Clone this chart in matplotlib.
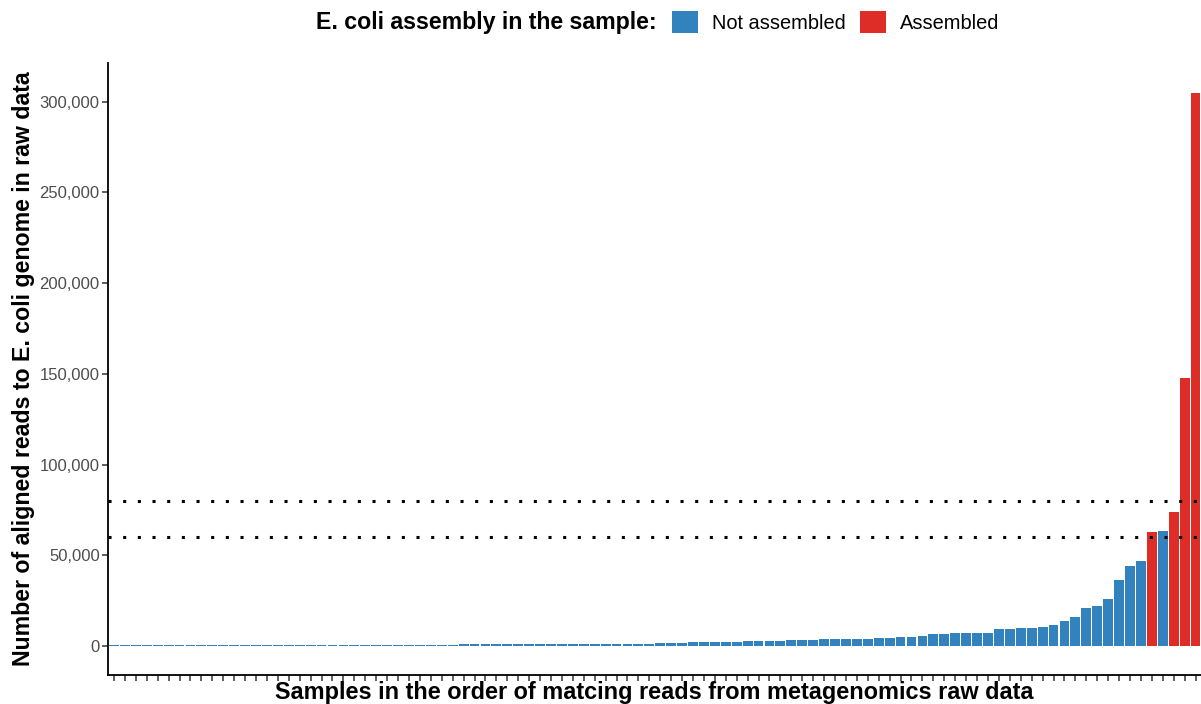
"""Bar chart: reads aligned to the E. coli genome per metagenomics sample,
sorted ascending, coloured by whether an E. coli assembly was obtained."""
import matplotlib
matplotlib.use("Agg")
import matplotlib.pyplot as plt
from matplotlib.patches import Patch
from matplotlib.ticker import FuncFormatter

plt.rcParams["font.family"] = ["Liberation Sans", "DejaVu Sans"]

# aligned read counts, one per sample, in plotting order
reads = [
    640, 645, 650, 650, 655, 660, 660, 665, 670, 670,
    675, 680, 680, 685, 690, 690, 695, 700, 700, 705,
    710, 710, 715, 720, 720, 725, 730, 730, 735, 740,
    800, 810, 980, 990, 1000, 1010, 1020, 1030, 1040, 1050,
    1060, 1070, 1080, 1300, 1320, 1340, 1360, 1380, 1400, 1420,
    1900, 1920, 1950, 2450, 2480, 2500, 2520, 2550, 3000, 3020,
    3050, 3080, 3550, 3580, 3600, 4100, 4120, 4150, 4170, 4200,
    4220, 4700, 5200, 5250, 5800, 6700, 6750, 7300, 7320, 7350,
    7400, 9500, 9550, 10000, 10100, 10600, 11700, 13900, 16100, 21000,
    22100, 26000, 36500, 44200, 46900, 62900, 63500, 73900, 148000, 305000,
]
# samples where E. coli was assembled
assembled_idx = [95, 97, 98, 99]
thresholds = [60000, 80000]

BLUE = "#3182BD"
RED = "#DE2D26"

n = len(reads)
x = list(range(n))
colors = [RED if i in assembled_idx else BLUE for i in x]

fig = plt.figure(figsize=(12.01, 7.04), dpi=100)
ax = fig.add_axes([108 / 1201, 29 / 704, 1 - 108 / 1201, (675 - 63) / 704])

ax.bar(x, reads, width=0.9, color=colors, linewidth=0, antialiased=False,
       zorder=2)
for t in thresholds:
    ax.axhline(t, color="black", lw=2.2, linestyle=(0, (1, 3.8)),
               dash_capstyle="butt", zorder=3)

ax.set_xlim(-0.55, n - 0.5)
ax.set_ylim(-15900, 321300)
ax.set_xticks(x)
ax.set_xticklabels([])
ax.set_yticks([0, 50000, 100000, 150000, 200000, 250000, 300000])
ax.yaxis.set_major_formatter(FuncFormatter(lambda v, _: f"{int(v):,}"))
ax.tick_params(axis="y", length=4, width=1.1, color="#333333", labelsize=12,
               labelcolor="#4D4D4D", pad=2)
ax.tick_params(axis="x", length=4, width=1.1, color="#333333")

for side in ("top", "right"):
    ax.spines[side].set_visible(False)
for side in ("left", "bottom"):
    ax.spines[side].set_linewidth(1.3)
    ax.spines[side].set_color("black")

ax.set_ylabel("Number of aligned reads to E. coli genome in raw data",
              fontsize=16.7, fontweight="bold")
ax.yaxis.set_label_coords(-73 / 1093, 0.5)
fig.text(654 / 1201, 1 - 692 / 704,
         "Samples in the order of matcing reads from metagenomics raw data",
         ha="center", va="center", fontsize=16.9, fontweight="bold")

# legend across the top
fig.text(657 / 1201, 1 - 22 / 704, "E. coli assembly in the sample:",
         ha="right", va="center", fontsize=16.7, fontweight="bold")
handles = [Patch(facecolor=BLUE, edgecolor="none", label="Not assembled"),
           Patch(facecolor=RED, edgecolor="none", label="Assembled")]
fig.legend(handles=handles, ncol=2, frameon=False, fontsize=14.4,
           loc="center left", bbox_to_anchor=(672 / 1201, 1 - 22 / 704),
           borderpad=0, borderaxespad=0, handlelength=1.3, handleheight=1.35,
           handletextpad=0.7, columnspacing=0.7)

fig.savefig("out.png", dpi=100)
